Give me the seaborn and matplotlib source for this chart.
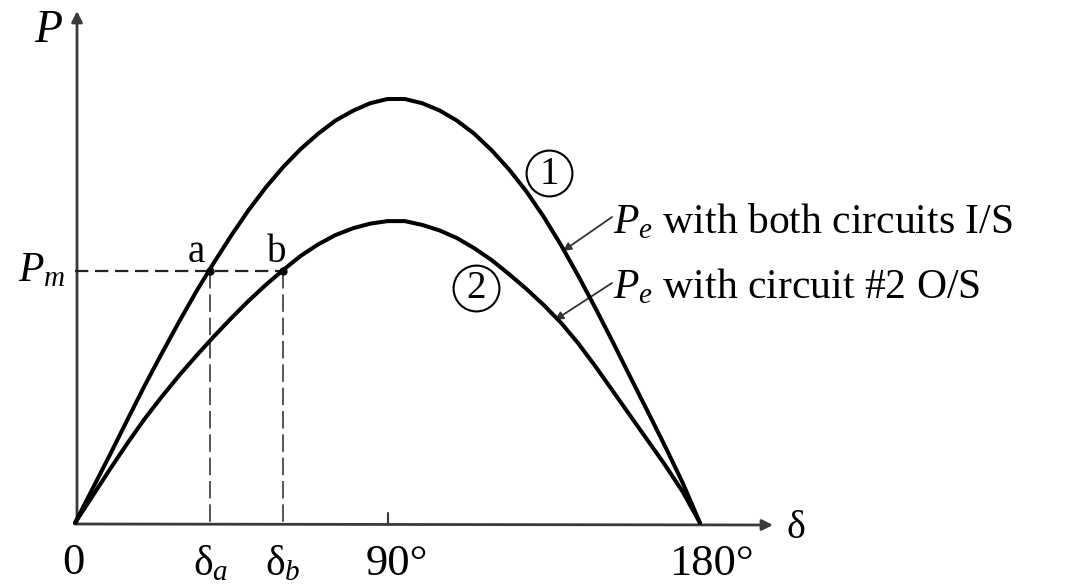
import matplotlib
matplotlib.use("Agg")
import matplotlib.pyplot as plt
import pandas as pd
import seaborn as sns

# Power-angle curves (P normalised to the peak of curve 1), every 5 degrees
delta_deg = [0, 5, 10, 15, 20, 25, 30, 35, 40, 45, 50, 55, 60, 65, 70, 75, 80, 85, 90,
             95, 100, 105, 110, 115, 120, 125, 130, 135, 140, 145, 150, 155, 160, 165,
             170, 175, 180]
p_both_in = [0, 0.080, 0.160, 0.242, 0.323, 0.400, 0.475, 0.547, 0.614, 0.678, 0.738,
             0.792, 0.840, 0.882, 0.918, 0.949, 0.972, 0.990, 1.000,
             1.000, 0.990, 0.973, 0.949, 0.918, 0.879, 0.834, 0.782, 0.722, 0.655,
             0.582, 0.505, 0.425, 0.343, 0.262, 0.180, 0.095, 0]
p_one_out = [0, 0.063, 0.126, 0.187, 0.245, 0.298, 0.348, 0.395, 0.440, 0.483, 0.524,
             0.562, 0.597, 0.630, 0.657, 0.679, 0.695, 0.706, 0.712,
             0.712, 0.703, 0.690, 0.672, 0.648, 0.620, 0.587, 0.552, 0.514, 0.472,
             0.423, 0.368, 0.310, 0.252, 0.194, 0.136, 0.074, 0]
curve_names = ["Pe with both circuits I/S", "Pe with circuit #2 O/S"]

p_mech = 0.594      # mechanical input power Pm
delta_a = 39.0      # operating angle, both circuits in service
delta_b = 59.8      # operating angle, circuit #2 out of service

sns.set_theme(style="white")
plt.rcParams["font.family"] = ["Liberation Serif", "DejaVu Serif"]
plt.rcParams["mathtext.fontset"] = "custom"
plt.rcParams["mathtext.rm"] = "Liberation Serif"
plt.rcParams["mathtext.it"] = "Liberation Serif:italic"
plt.rcParams["mathtext.bf"] = "Liberation Serif:bold"

W, H = 1073, 585
fig = plt.figure(figsize=(W / 100, H / 100), dpi=100)
fig.patch.set_facecolor("white")
ax = fig.add_axes([0, 0, 1, 1])

# canvas geometry: origin pixel and pixels per unit
X0, XS = 75.0, 625.0 / 180.0
Y0, YS = 523.0, 424.0
ax.set_xlim(-X0 / XS, (W - X0) / XS)
ax.set_ylim(-(H - Y0) / YS, Y0 / YS)
ax.axis("off")


def px(x, y):
    """pixel position (from top-left) -> data coordinates"""
    return ((x - X0) / XS, (Y0 - y) / YS)


df = pd.DataFrame({
    "delta": delta_deg + delta_deg,
    "P": p_both_in + p_one_out,
    "curve": [curve_names[0]] * len(delta_deg) + [curve_names[1]] * len(delta_deg),
})
sns.lineplot(data=df, x="delta", y="P", hue="curve", palette=["black", "black"],
             estimator=None, linewidth=2.9, legend=False, ax=ax, zorder=4)
for ln in ax.get_lines():
    ln.set_solid_joinstyle("round")
    ln.set_solid_capstyle("round")

axis_col = "#3a3a3a"
# axes with arrows
ax.annotate("", xy=px(77, 11), xytext=px(77, 524),
            arrowprops=dict(arrowstyle="-|>", color=axis_col, lw=2.0,
                            mutation_scale=16, shrinkA=0, shrinkB=0))
ax.annotate("", xy=px(773, 525), xytext=px(75, 524),
            arrowprops=dict(arrowstyle="-|>", color=axis_col, lw=2.0,
                            mutation_scale=16, shrinkA=0, shrinkB=0))
# small tick at 90 degrees
ax.plot([90, 90], [0, 10 / YS], color=axis_col, lw=1.5)

# operating point construction
ax.plot([0, delta_b], [p_mech, p_mech], color="#222222", lw=1.6, ls=(0, (6, 3)), zorder=3)
ax.plot([delta_a, delta_a], [p_mech, 0], color="#555555", lw=1.4, ls=(0, (9, 3)), zorder=3)
ax.plot([delta_b, delta_b], [p_mech, 0], color="#555555", lw=1.4, ls=(0, (9, 3)), zorder=3)
ax.plot([delta_a, delta_b], [p_mech, p_mech], "o", ms=5, color="black", zorder=5)

txt = dict(color="black")
# axis labels
ax.text(*px(34, 42), "$P$", fontsize=33, ha="left", va="baseline", **txt)
ax.text(*px(786, 538), r"$\mathrm{\delta}$", fontsize=29, ha="left", va="baseline", **txt)
ax.text(*px(18, 281), "$P_m$", fontsize=30, ha="left", va="baseline", **txt)

# tick labels along the angle axis
ax.text(0 - 0.5, px(0, 574)[1], "0", fontsize=32, ha="center", va="baseline", **txt)
ax.text(delta_a, px(0, 575)[1], r"$\mathrm{\delta}_a$", fontsize=30, ha="center", va="baseline", **txt)
ax.text(delta_b, px(0, 575)[1], r"$\mathrm{\delta}_b$", fontsize=30, ha="center", va="baseline", **txt)
ax.text(px(366, 0)[0], px(0, 575)[1], "90°", fontsize=32, ha="left", va="baseline", **txt)
ax.text(px(669, 0)[0], px(0, 575)[1], "180°", fontsize=32, ha="left", va="baseline", **txt)

# operating point letters
ax.text(*px(196, 262), "a", fontsize=28, ha="center", va="baseline", **txt)
ax.text(*px(277, 262), "b", fontsize=28, ha="center", va="baseline", **txt)

# circled curve numbers
for (cx, cy), label in [((549, 173), "1"), ((476, 288), "2")]:
    ax.plot(*px(cx, cy), "o", ms=33, mfc="none", mec="black", mew=1.5, zorder=5)
    ax.text(*px(cx, cy + 1), label, fontsize=28, ha="center", va="center", **txt)

# curve annotations with leader arrows
ax.text(*px(613, 233), r"$P_e$ with both circuits I/S", fontsize=30,
        ha="left", va="baseline", **txt)
ax.text(*px(613, 298), r"$P_e$ with circuit #2 O/S", fontsize=30,
        ha="left", va="baseline", **txt)
ax.annotate("", xy=px(563, 251), xytext=px(612, 217),
            arrowprops=dict(arrowstyle="-|>", color="#333333", lw=1.3,
                            mutation_scale=12, shrinkA=0, shrinkB=0))
ax.annotate("", xy=px(555, 320), xytext=px(612, 283),
            arrowprops=dict(arrowstyle="-|>", color="#333333", lw=1.3,
                            mutation_scale=12, shrinkA=0, shrinkB=0))

fig.savefig("out.png", dpi=100, facecolor="white")
